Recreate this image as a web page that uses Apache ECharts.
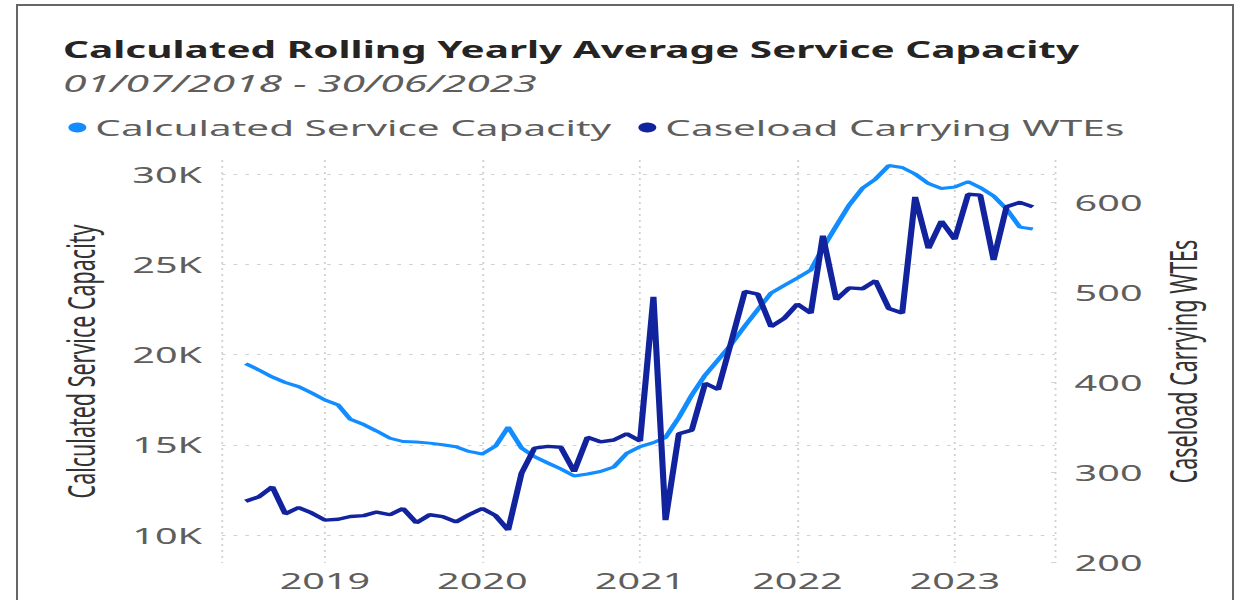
<!DOCTYPE html>
<html><head><meta charset="utf-8">
<script src="https://cdn.jsdelivr.net/npm/echarts@6/dist/echarts.min.js"></script>
<style>
html,body{margin:0;padding:0;background:#fff;width:1240px;height:600px;overflow:hidden;}
#frame{position:absolute;left:16px;top:4px;width:1218px;height:700px;border:2px solid #666;box-sizing:border-box;}
#chart{position:absolute;left:0;top:0;width:689px;height:600px;transform:scaleX(1.79971);transform-origin:0 0;}
</style></head><body>
<div id="frame"></div>
<div id="chart"></div>
<script>
const titleText = 'Calculated Rolling Yearly Average Service Capacity';
const subtitleText = '01/07/2018 - 30/06/2023';
const seriesNames = ['Calculated Service Capacity', 'Caseload Carrying WTEs'];
const months = [
 '2018-07-01','2018-08-01','2018-09-01','2018-10-01','2018-11-01','2018-12-01',
 '2019-01-01','2019-02-01','2019-03-01','2019-04-01','2019-05-01','2019-06-01',
 '2019-07-01','2019-08-01','2019-09-01','2019-10-01','2019-11-01','2019-12-01',
 '2020-01-01','2020-02-01','2020-03-01','2020-04-01','2020-05-01','2020-06-01',
 '2020-07-01','2020-08-01','2020-09-01','2020-10-01','2020-11-01','2020-12-01',
 '2021-01-01','2021-02-01','2021-03-01','2021-04-01','2021-05-01','2021-06-01',
 '2021-07-01','2021-08-01','2021-09-01','2021-10-01','2021-11-01','2021-12-01',
 '2022-01-01','2022-02-01','2022-03-01','2022-04-01','2022-05-01','2022-06-01',
 '2022-07-01','2022-08-01','2022-09-01','2022-10-01','2022-11-01','2022-12-01',
 '2023-01-01','2023-02-01','2023-03-01','2023-04-01','2023-05-01','2023-06-01',
 '2023-07-01'
];
const capacity = [
 19500,19140,18750,18450,18220,17870,17480,17200,16410,16120,
 15760,15360,15180,15150,15090,15000,14890,14630,14490,14930,
 15980,14820,14340,13990,13660,13270,13380,13520,13770,14520,
 14900,15120,15400,16510,17760,18860,19700,20580,21580,22490,
 23410,23820,24240,24680,25900,27120,28280,29220,29720,30470,
 30360,30000,29470,29200,29280,29580,29250,28780,28060,27060,
 26950
];
const wtes = [
 268,273,284,254,261,255,247,248,251,252,
 256,253,260,244,253,251,245,253,260,252,
 236,299,327,329,328,301,339,334,336,343,
 335,495,247,343,347,399,392,446,501,498,
 462,471,487,477,563,492,505,504,513,482,
 477,606,549,579,559,609,608,536,595,600,
 595
];
const leftTicks = [10000,15000,20000,25000,30000];
const rightTicks = [200,300,400,500,600];

const FONT = '"Noto Sans","Open Sans",sans-serif';
const GRID_COLOR = '#d0d0d0';
const chart = echarts.init(document.getElementById('chart'), null, {renderer:'svg', width:689, height:600});
const YEAR = 365*24*3600*1000;
chart.setOption({
  animation:false,
  title:[
    {text:titleText, left:35, top:38, padding:0,
     textStyle:{fontFamily:FONT, fontWeight:'bold', fontSize:22.5, color:'#252423'}},
    {text:subtitleText, left:35, top:71, padding:0,
     textStyle:{fontFamily:FONT, fontStyle:'italic', fontWeight:'normal', fontSize:23.8, color:'#605E5C'}}
  ],
  legend:{left:38, top:116, padding:0, icon:'circle', itemWidth:10, itemHeight:10, itemGap:15,
    textStyle:{fontFamily:FONT, fontSize:22.5, color:'#605E5C'}},
  grid:{left:123.3, right:102.9, top:160, bottom:37},
  xAxis:{type:'time', min:'2018-05-07', max:'2023-08-21', minInterval:YEAR, maxInterval:YEAR,
    axisLine:{show:false}, axisTick:{show:false},
    splitLine:{show:true, lineStyle:{color:GRID_COLOR, type:[2,4], width:1}},
    axisLabel:{fontFamily:FONT, fontSize:22, color:'#605E5C', margin:6,
      formatter:function(v){return String(new Date(v).getFullYear());}}
  },
  yAxis:[
    {type:'value', min:8449, max:30776, position:'left',
     name:seriesNames[0], nameLocation:'middle', nameGap:68,
     nameTextStyle:{fontFamily:FONT, fontSize:21.5, color:'#333'},
     axisLine:{show:false}, axisTick:{show:false, customValues:leftTicks},
     splitLine:{show:true, lineStyle:{color:GRID_COLOR, type:[2,4.5], width:1}},
     axisLabel:{customValues:leftTicks, fontFamily:FONT, fontSize:22, color:'#605E5C', margin:11,
       formatter:function(v){return (v/1000)+'K';}}
    },
    {type:'value', min:199.4, max:647, position:'right',
     name:seriesNames[1], nameLocation:'middle', nameGap:60,
     nameTextStyle:{fontFamily:FONT, fontSize:21.5, color:'#333'},
     axisLine:{show:false},
     axisTick:{show:true, inside:true, length:2, customValues:rightTicks, lineStyle:{color:GRID_COLOR}},
     splitLine:{show:false},
     axisLabel:{customValues:rightTicks, fontFamily:FONT, fontSize:22, color:'#605E5C', margin:11}
    }
  ],
  series:[
    {name:seriesNames[0], type:'line', yAxisIndex:0, showSymbol:false, symbol:'none',
     data:months.map((m,i)=>[m, capacity[i]]),
     lineStyle:{color:'#118DFF', width:3}, itemStyle:{color:'#118DFF'}},
    {name:seriesNames[1], type:'line', yAxisIndex:1, showSymbol:false, symbol:'none',
     data:months.map((m,i)=>[m, wtes[i]]),
     lineStyle:{color:'#12239E', width:3.4}, itemStyle:{color:'#12239E'}}
  ]
});
</script></body></html>
